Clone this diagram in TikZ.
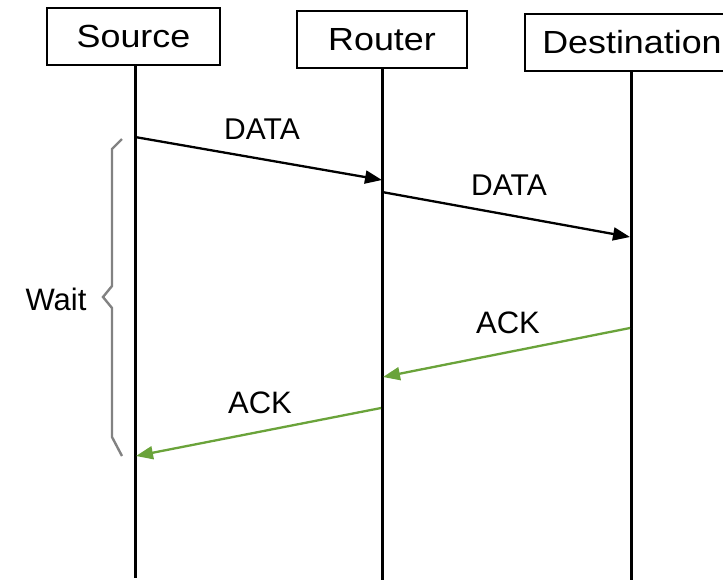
\documentclass[tikz,border=0pt]{standalone}
\usepackage{fontspec}
\setmainfont{Liberation Sans}
\newfontfamily\boxfont[FakeStretch=1.12]{Liberation Sans}
\usetikzlibrary{arrows.meta}
\definecolor{ackgreen}{RGB}{106,163,58}
\definecolor{bracegray}{RGB}{130,130,130}
\begin{document}
\begin{tikzpicture}[x=1pt,y=-1pt,
  party/.style={draw,line width=2.2pt,inner sep=0pt,minimum height=57pt,font=\boxfont\fontsize{32}{36}\selectfont},
  lifeline/.style={line width=3pt},
  msg/.style={line width=2.3pt,-{Triangle[length=17pt,width=13pt]}},
  ack/.style={msg,draw=ackgreen,-{Triangle[length=17pt,width=13pt,fill=ackgreen]}},
  msglabel/.style={font=\fontsize{30}{33}\selectfont,inner sep=0pt}]
\useasboundingbox (0,0) rectangle (723,582);
\clip (0,0) rectangle (723,582);
% participants
\node[party,minimum width=173pt] (src) at (133.5,36.5) {Source};
\node[party,minimum width=170pt] (rtr) at (382,39.5) {Router};
\node[party,minimum width=214pt] (dst) at (632,42.5) {Destination};
% lifelines
\coordinate (srcend) at (135,578);
\coordinate (rtrend) at (382,580);
\coordinate (dstend) at (631,580);
\draw[lifeline] (src.south -| srcend) -- (srcend);
\draw[lifeline] (rtr.south -| rtrend) -- (rtrend);
\draw[lifeline] (dst.south -| dstend) -- (dstend);
% message points
\coordinate (d1a) at (135,137);
\coordinate (d1b) at (382,180);
\coordinate (d2a) at (382,192);
\coordinate (d2b) at (630,237);
\coordinate (a1a) at (630,328);
\coordinate (a1b) at (383,377);
\coordinate (a2a) at (381,408);
\coordinate (a2b) at (136,456);
% messages
\draw[msg] (d1a) -- (d1b);
\draw[msg] (d2a) -- (d2b);
\draw[ack] (a1a) -- (a1b);
\draw[ack] (a2a) -- (a2b);
\node[msglabel] (l1) at (262,129) {DATA};
\node[msglabel] (l2) at (509,185) {DATA};
\node[msglabel,font=\fontsize{31}{34}\selectfont] (l3) at (508,323) {ACK};
\node[msglabel,font=\fontsize{31}{34}\selectfont] (l4) at (260,403) {ACK};
% waiting interval
\draw[bracegray,line width=2.4pt,line join=miter]
  (122,139) -- (112,149) -- (112,286) -- (103,297) -- (112,308) -- (112,437) -- (122,456);
\node[font=\fontsize{31}{34}\selectfont,inner sep=0pt] (wait) at (56,299) {Wait};
\end{tikzpicture}
\end{document}
